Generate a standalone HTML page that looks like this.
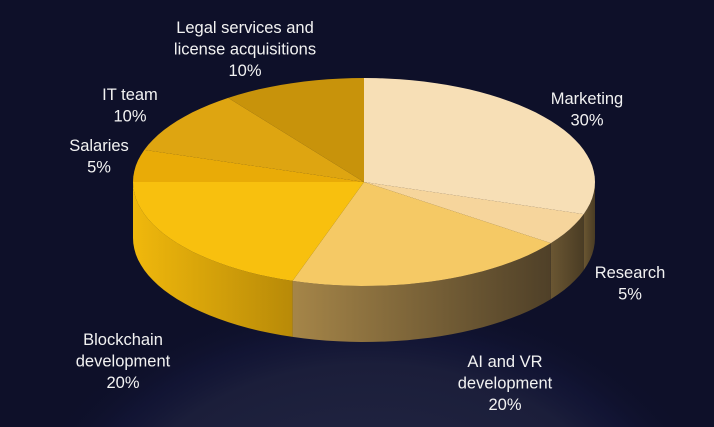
<!DOCTYPE html>
<html><head><meta charset="utf-8">
<style>
html,body{margin:0;padding:0;background:#0e1029;width:714px;height:427px;overflow:hidden;}
svg{display:block;}
text{font-family:"Liberation Sans","DejaVu Sans",sans-serif;font-size:16.5px;fill:#f2f2f2;text-anchor:middle;}
</style></head>
<body>
<svg id="chart" width="714" height="427" viewBox="0 0 714 427">
<defs>
<radialGradient id="globe" gradientUnits="userSpaceOnUse" cx="370" cy="560" r="320" gradientTransform="translate(370 560) scale(1.15 0.85) translate(-370 -560)">
<stop offset="0" stop-color="#262a48"/><stop offset="0.72" stop-color="#1b1e3a"/><stop offset="0.84" stop-color="#14173a" stop-opacity="0.6"/><stop offset="1" stop-color="#0e1029" stop-opacity="0"/>
</radialGradient>
<linearGradient id="sideGold" x1="0" x2="1" y1="0" y2="0">
<stop offset="0" stop-color="#f0b80c"/><stop offset="1" stop-color="#b88a08"/>
</linearGradient>
<linearGradient id="sideBrown" x1="0" x2="1" y1="0" y2="0">
<stop offset="0" stop-color="#a58548"/><stop offset="1" stop-color="#4f4028"/>
</linearGradient>
<linearGradient id="sideBrown2" x1="0" x2="1" y1="0" y2="0">
<stop offset="0" stop-color="#6a5632"/><stop offset="1" stop-color="#4a3c24"/>
</linearGradient>
</defs>
<rect width="714" height="427" fill="#0e1029"/>
<rect x="0" y="280" width="714" height="147" fill="url(#globe)"/>
<g id="sides"></g>
<g id="tops"></g>
<g id="labels"></g>
</svg>
<script>
const categories = ["Marketing","Research","AI and VR development","Blockchain development","Salaries","IT team","Legal services and license acquisitions"];
const values = [30,5,20,20,5,10,10];
const topColors = ["#f7dfb6","#f6d59c","#f5c965","#f8c00e","#e9ab07","#dea511","#c8930b"];
const sideFills = ["url(#sideBrown2)","url(#sideBrown2)","url(#sideBrown)","url(#sideGold)","url(#sideGold)","url(#sideGold)","url(#sideGold)"];
const labelLines = [["Marketing","30%"],["Research","5%"],["AI and VR","development","20%"],["Blockchain","development","20%"],["Salaries","5%"],["IT team","10%"],["Legal services and","license acquisitions","10%"]];
const labelPos = [[587,104],[630,278],[505,367],[123,345],[99,151],[130,100],[245,33]];

const cx=364, cy=182, rx=231, ry=104, depth=56;
const ns="http://www.w3.org/2000/svg";
function pt(t,dy){const r=t*Math.PI/180;return [cx+rx*Math.sin(r), cy-ry*Math.cos(r)+(dy||0)];}
function arc(a1,a2,dy){let d="";const n=Math.max(2,Math.ceil((a2-a1)/3));for(let i=0;i<=n;i++){const p=pt(a1+(a2-a1)*i/n,dy);d+=(i?"L":"M")+p[0].toFixed(1)+","+p[1].toFixed(1);}return d;}
const total=values.reduce((a,b)=>a+b,0);
let acc=0;const angs=values.map(v=>{const s=acc/total*360;acc+=v;return [s,acc/total*360];});
const sides=document.getElementById("sides"),tops=document.getElementById("tops"),labels=document.getElementById("labels");
angs.forEach(([a1,a2],i)=>{
  const s=Math.max(a1,90),e=Math.min(a2,270);
  if(e>s){
    const top=arc(s,e,0);
    let back="";const n=Math.max(2,Math.ceil((e-s)/3));
    for(let k=n;k>=0;k--){const p=pt(s+(e-s)*k/n,depth);back+="L"+p[0].toFixed(1)+","+p[1].toFixed(1);}
    const p=document.createElementNS(ns,"path");
    p.setAttribute("d",top+back+"Z");
    p.setAttribute("fill",sideFills[i]);
    
    
    sides.appendChild(p);
  }
  const p=document.createElementNS(ns,"path");
  p.setAttribute("d","M"+cx+","+cy+arc(a1,a2,0).replace(/^M/,"L")+"Z");
  p.setAttribute("fill",topColors[i]);
  
  
  tops.appendChild(p);
  const t=document.createElementNS(ns,"text");
  
  
  labelLines[i].forEach((ln,j)=>{const ts=document.createElementNS(ns,"tspan");ts.setAttribute("x",labelPos[i][0]);ts.setAttribute("y",labelPos[i][1]+j*21.5);ts.textContent=ln;t.appendChild(ts);});
  labels.appendChild(t);
});
</script>
</body></html>
